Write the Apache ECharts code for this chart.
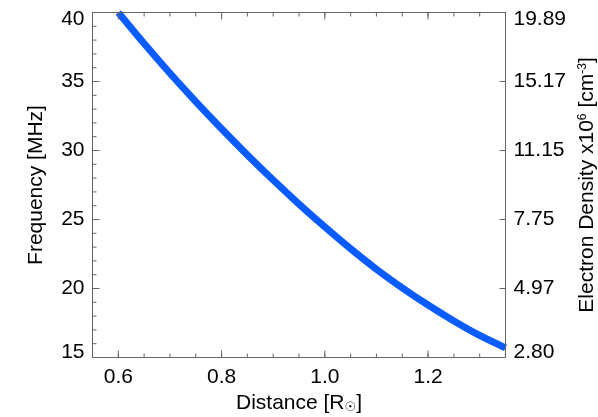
<!DOCTYPE html>
<html>
<head>
<meta charset="utf-8">
<script src="https://cdn.jsdelivr.net/npm/echarts@6/dist/echarts.min.js"></script>
<style>
  html, body { margin: 0; padding: 0; background: #ffffff; }
  #chart { width: 598px; height: 417px; }
</style>
</head>
<body>
<div id="chart"></div>
<script>
// Plasma frequency versus distance, with matching electron density on the right axis
const distance = [0.60, 0.65, 0.70, 0.75, 0.80, 0.85, 0.90, 0.95, 1.00, 1.05, 1.10, 1.15, 1.20, 1.25, 1.30, 1.35];
const frequency = [40.0, 37.75, 35.6, 33.55, 31.58, 29.68, 27.86, 26.12, 24.46, 22.88, 21.40, 20.05, 18.8, 17.65, 16.6, 15.7];

const distanceTicks = [0.6, 0.8, 1.0, 1.2];
const distanceMinorTicks = [0.55, 0.60, 0.65, 0.70, 0.75, 0.80, 0.85, 0.90, 0.95, 1.00, 1.05, 1.10, 1.15, 1.20, 1.25, 1.30, 1.35];
const frequencyTicks = [15, 20, 25, 30, 35, 40];
const frequencyMinorTicks = [15, 16, 17, 18, 19, 20, 21, 22, 23, 24, 25, 26, 27, 28, 29, 30, 31, 32, 33, 34, 35, 36, 37, 38, 39, 40];
const densityLabels = ['2.80', '4.97', '7.75', '11.15', '15.17', '19.89'];

const FONT = '"Liberation Sans", Arial, Helvetica, sans-serif';
const AXIS_COLOR = '#666666';
const LABEL_SIZE = 21;
const FRAME_Z = 10;

const xMin = 0.55, xMax = 1.35;
const yMin = 15, yMax = 40;

// End labels sit slightly inside the frame
const edgeRich = {
  hi: { fontSize: LABEL_SIZE, fontFamily: FONT, color: '#000', padding: [14, 0, 0, 0] },
  lo: { fontSize: LABEL_SIZE, fontFamily: FONT, color: '#000', padding: [0, 0, 10, 0] }
};
function edgeLabel(v, text) {
  if (v === yMax) return '{hi|' + text + '}';
  if (v === yMin) return '{lo|' + text + '}';
  return text;
}

// Inward tick marks along the frame, placed through the axes' scales
function tickSeries(points, size, offset) {
  return {
    type: 'scatter',
    xAxisIndex: 0,
    yAxisIndex: 0,
    data: points,
    symbol: 'rect',
    symbolSize: size,
    symbolOffset: offset,
    itemStyle: { color: AXIS_COLOR, opacity: 1 },
    silent: true,
    clip: false,
    emphasis: { disabled: true },
    z: FRAME_Z
  };
}

const chart = echarts.init(document.getElementById('chart'));

chart.setOption({
  animation: false,
  backgroundColor: '#ffffff',
  grid: {
    left: 92.5, right: 92.5, top: 12.5, bottom: 59.5,
    outerBoundsMode: 'none',
    show: true,
    z: FRAME_Z,
    backgroundColor: 'transparent',
    borderColor: AXIS_COLOR,
    borderWidth: 1
  },
  xAxis: {
    type: 'value',
    min: xMin,
    max: xMax,
    z: FRAME_Z,
    name: 'Distance [R{sub|☉}]',
    nameLocation: 'middle',
    nameGap: 35,
    nameTextStyle: {
      fontSize: LABEL_SIZE,
      fontFamily: FONT,
      color: '#000',
      rich: {
        sub: { fontSize: 13, fontFamily: '"DejaVu Sans", sans-serif', color: '#000', verticalAlign: 'bottom', padding: [9, 0, 0, 0] }
      }
    },
    axisLine: { show: false },
    axisTick: { show: false },
    axisLabel: {
      customValues: distanceTicks,
      formatter: v => v.toFixed(1),
      fontSize: LABEL_SIZE,
      fontFamily: FONT,
      color: '#000',
      margin: 9
    },
    splitLine: { show: false },
    splitArea: { show: false }
  },
  yAxis: [
    {
      type: 'value',
      position: 'left',
      min: yMin,
      max: yMax,
      interval: 5,
      z: FRAME_Z,
      name: 'Frequency [MHz]',
      nameLocation: 'middle',
      nameRotate: 90,
      nameGap: 46,
      nameTextStyle: { fontSize: LABEL_SIZE, fontFamily: FONT, color: '#000' },
      axisLine: { show: false },
      axisTick: { show: false },
      axisLabel: {
        fontSize: LABEL_SIZE,
        fontFamily: FONT,
        color: '#000',
        margin: 8,
        formatter: v => edgeLabel(v, String(v)),
        rich: edgeRich
      },
      splitLine: { show: false },
      splitArea: { show: false }
    },
    {
      type: 'value',
      position: 'right',
      min: yMin,
      max: yMax,
      interval: 5,
      z: FRAME_Z,
      name: 'Electron Density x10{sup|6} [cm{sup|-3}]',
      nameLocation: 'middle',
      nameRotate: 90,
      nameGap: 67,
      nameTextStyle: {
        fontSize: LABEL_SIZE,
        fontFamily: FONT,
        color: '#000',
        rich: {
          sup: { fontSize: 12, fontFamily: FONT, color: '#000', verticalAlign: 'top', lineHeight: 12 }
        }
      },
      axisLine: { show: false },
      axisTick: { show: false },
      axisLabel: {
        fontSize: LABEL_SIZE,
        fontFamily: FONT,
        color: '#000',
        margin: 8,
        formatter: v => edgeLabel(v, densityLabels[frequencyTicks.indexOf(v)]),
        rich: edgeRich
      },
      splitLine: { show: false },
      splitArea: { show: false }
    }
  ],
  series: [
    {
      type: 'line',
      xAxisIndex: 0,
      yAxisIndex: 0,
      data: distance.map((d, i) => [d, frequency[i]]),
      smooth: 0.3,
      showSymbol: false,
      clip: true,
      silent: true,
      z: 2,
      lineStyle: { color: '#0a5cff', width: 7, cap: 'butt' }
    },
    // bottom edge
    tickSeries(distanceMinorTicks.map(d => [d, yMin]), [1, 4], [0, -2]),
    tickSeries(distanceTicks.map(d => [d, yMin]), [1, 7], [0, -3.5]),
    // top edge
    tickSeries(distanceMinorTicks.map(d => [d, yMax]), [1, 4], [0, 2]),
    tickSeries(distanceTicks.map(d => [d, yMax]), [1, 7], [0, 3.5]),
    // left edge
    tickSeries(frequencyMinorTicks.map(f => [xMin, f]), [4, 1], [2, 0]),
    tickSeries(frequencyTicks.map(f => [xMin, f]), [7, 1], [3.5, 0]),
    // right edge
    tickSeries(frequencyTicks.map(f => [xMax, f]), [6, 1], [-3, 0])
  ]
});
</script>
</body>
</html>
